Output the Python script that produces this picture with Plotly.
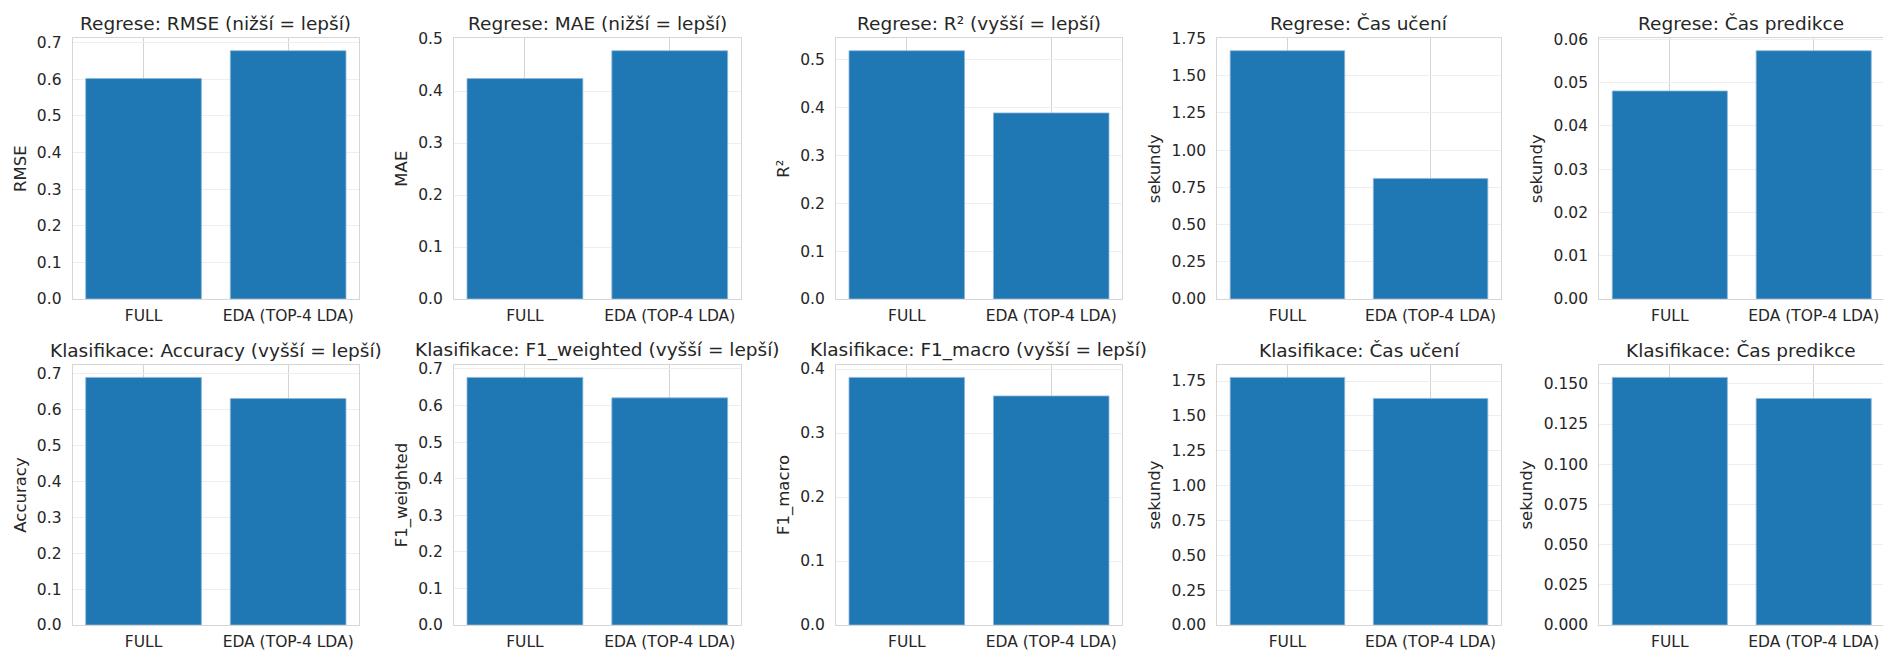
import plotly.graph_objects as go

categories = ["FULL", "EDA (TOP-4 LDA)"]

titles = [
    "Regrese: RMSE (nižší = lepší)",
    "Regrese: MAE (nižší = lepší)",
    "Regrese: R² (vyšší = lepší)",
    "Regrese: Čas učení",
    "Regrese: Čas predikce",
    "Klasifikace: Accuracy (vyšší = lepší)",
    "Klasifikace: F1_weighted (vyšší = lepší)",
    "Klasifikace: F1_macro (vyšší = lepší)",
    "Klasifikace: Čas učení",
    "Klasifikace: Čas predikce",
]
ylabels = ["RMSE", "MAE", "R²", "sekundy", "sekundy",
           "Accuracy", "F1_weighted", "F1_macro", "sekundy", "sekundy"]

reg_rmse = [0.602, 0.678]
reg_mae = [0.424, 0.4775]
reg_r2 = [0.519, 0.389]
reg_train_time = [1.668, 0.810]
reg_pred_time = [0.0481, 0.0574]
cls_accuracy = [0.690, 0.631]
cls_f1_weighted = [0.677, 0.621]
cls_f1_macro = [0.387, 0.358]
cls_train_time = [1.776, 1.625]
cls_pred_time = [0.1540, 0.1409]

series = [reg_rmse, reg_mae, reg_r2, reg_train_time, reg_pred_time,
          cls_accuracy, cls_f1_weighted, cls_f1_macro, cls_train_time, cls_pred_time]
dticks = [0.1, 0.1, 0.1, 0.25, 0.01, 0.1, 0.1, 0.1, 0.25, 0.025]
tickfmts = [".1f", ".1f", ".1f", ".2f", ".2f", ".1f", ".1f", ".1f", ".2f", ".3f"]

W, H = 1883, 651
col_px = [(72.7, 359.0), (454.0, 740.7), (836.0, 1122.0), (1217.3, 1500.7), (1599.3, 1883.0)]
row_px = [(38.3, 299.0), (365.0, 625.0)]

TXT = "#262626"
FONT = "DejaVu Sans"
BAR = "#1f77b4"

fig = go.Figure()
layout = dict(
    width=W, height=H,
    margin=dict(l=0, r=0, t=0, b=0, autoexpand=False),
    paper_bgcolor="white", plot_bgcolor="white",
    showlegend=False, bargap=0.2,
    font=dict(family=FONT, color=TXT, size=15.5),
)
annotations = []
for i in range(10):
    r, c = divmod(i, 5)
    ax = "" if i == 0 else str(i + 1)
    x0, x1 = col_px[c]
    y0, y1 = row_px[r]
    xr = [-0.49, 1.49]
    if c == 4:
        # right edge of the last panel is cut by the image border
        unit = 143.9
        xr = [-0.49, -0.49 + (x1 - x0) / unit]
    ymax = max(series[i]) * 1.05
    fig.add_trace(go.Bar(
        x=[0, 1], y=series[i], width=0.8,
        marker=dict(color=BAR, line=dict(color="#8fb8dc", width=0.8)),
        xaxis="x" + ax, yaxis="y" + ax, hoverinfo="x+y",
    ))
    layout["xaxis" + ax] = dict(
        domain=[x0 / W, x1 / W], anchor="y" + ax, range=xr,
        tickmode="array", tickvals=[0, 1], ticktext=categories,
        showgrid=True, gridcolor="#d4d4d4", gridwidth=1,
        showline=True, linecolor="#d6d6d6", linewidth=1.2, mirror=True,
        zeroline=False, ticks="", ticklabelstandoff=2, automargin=False,
        tickfont=dict(size=15.5, color=TXT, family=FONT),
    )
    layout["yaxis" + ax] = dict(
        domain=[1 - y1 / H, 1 - y0 / H], anchor="x" + ax, range=[0, ymax],
        tick0=0, dtick=dticks[i], tickformat=tickfmts[i],
        showgrid=True, gridcolor="#eeeeee", gridwidth=1,
        showline=True, linecolor="#d6d6d6", linewidth=1.2, mirror=True,
        zeroline=False, ticks="", ticklabelstandoff=7, automargin=False,
        tickfont=dict(size=15.5, color=TXT, family=FONT),
        title=dict(text=ylabels[i], font=dict(size=16.5, color=TXT, family=FONT), standoff=6),
    )
    annotations.append(dict(
        text=titles[i], xref="paper", yref="paper",
        x=(x0 + x1) / 2 / W, y=1 - y0 / H, xanchor="center", yanchor="bottom",
        yshift=2, showarrow=False,
        font=dict(size=18.5, color=TXT, family=FONT),
    ))
layout["annotations"] = annotations
fig.update_layout(**layout)
fig.write_html(
    "out.html",
    config={"displayModeBar": False},
    post_script="document.body.style.margin='0';document.body.style.overflow='hidden';",
)
